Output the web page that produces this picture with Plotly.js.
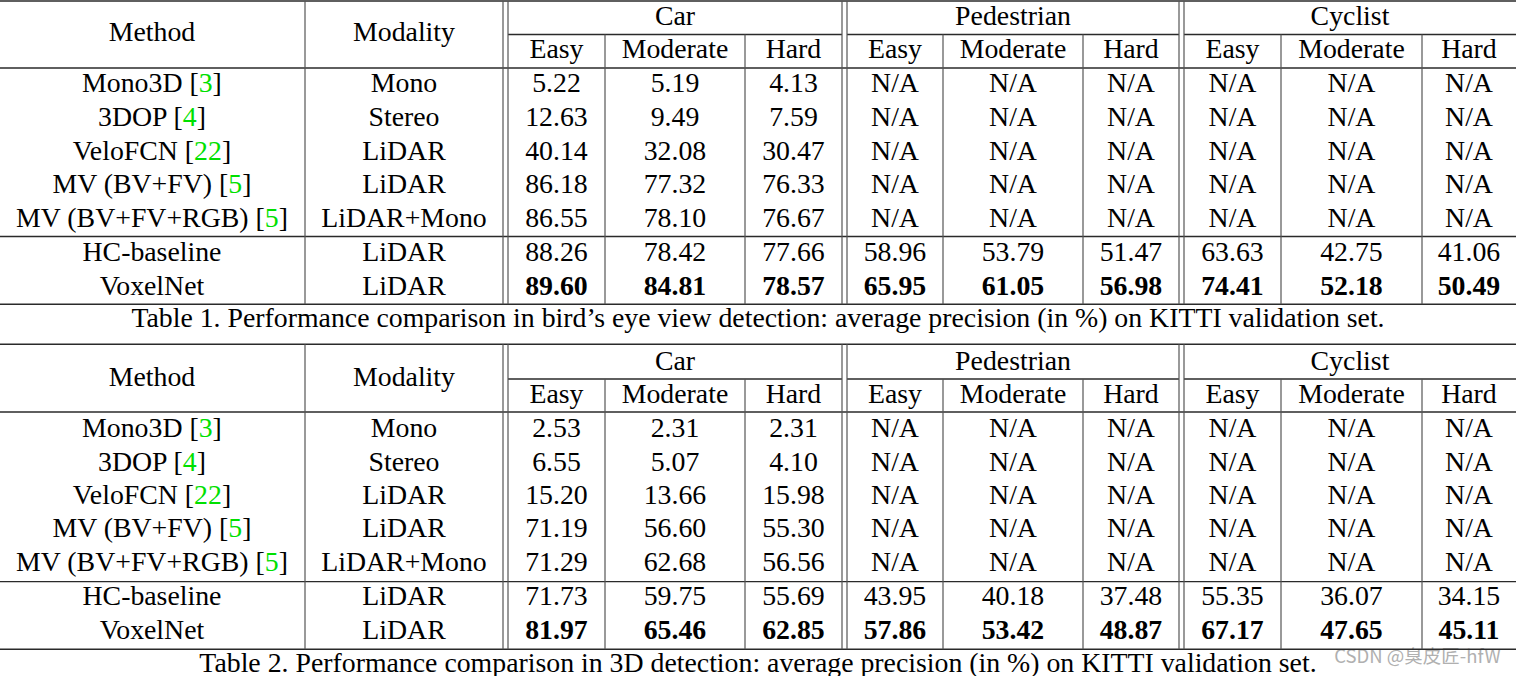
<!DOCTYPE html>
<html><head><meta charset="utf-8">
<script src="https://cdn.plot.ly/plotly-3.0.1.min.js"></script>
<style>html,body{margin:0;padding:0;background:#fff;overflow:hidden;} #chart{width:1516px;height:676px;}</style>
</head><body><div id="chart"></div>
<script>
// ---------- DATA ----------
const methods = ['Mono3D', '3DOP', 'VeloFCN', 'MV (BV+FV)', 'MV (BV+FV+RGB)', 'HC-baseline', 'VoxelNet'];
const refs = ['3', '4', '22', '5', '5', '', ''];
const modality = ['Mono', 'Stereo', 'LiDAR', 'LiDAR', 'LiDAR+Mono', 'LiDAR', 'LiDAR'];
const classes = ['Car', 'Pedestrian', 'Cyclist'];
const levels = ['Easy', 'Moderate', 'Hard'];
const headerMethod = 'Method';
const headerModality = 'Modality';

// Table 1: bird's eye view AP (%)
const bevCar = [[5.22, 5.19, 4.13], [12.63, 9.49, 7.59], [40.14, 32.08, 30.47], [86.18, 77.32, 76.33], [86.55, 78.10, 76.67], [88.26, 78.42, 77.66], [89.60, 84.81, 78.57]];
const bevPed = [null, null, null, null, null, [58.96, 53.79, 51.47], [65.95, 61.05, 56.98]];
const bevCyc = [null, null, null, null, null, [63.63, 42.75, 41.06], [74.41, 52.18, 50.49]];

// Table 2: 3D detection AP (%)
const d3Car = [[2.53, 2.31, 2.31], [6.55, 5.07, 4.10], [15.20, 13.66, 15.98], [71.19, 56.60, 55.30], [71.29, 62.68, 56.56], [71.73, 59.75, 55.69], [81.97, 65.46, 62.85]];
const d3Ped = [null, null, null, null, null, [43.95, 40.18, 37.48], [57.86, 53.42, 48.87]];
const d3Cyc = [null, null, null, null, null, [55.35, 36.07, 34.15], [67.17, 47.65, 45.11]];

const captions = [
  'Table 1. Performance comparison in bird\u2019s eye view detection: average precision (in %) on KITTI validation set.',
  'Table 2. Performance comparison in 3D detection: average precision (in %) on KITTI validation set.'
];
const boldRow = 'VoxelNet';
const watermark = 'CSDN @\u81ed\u76ae\u5320-hfW';

// ---------- LAYOUT GEOMETRY ----------
const W = 1516, H = 676;
const TDY = 2.2; // vertical text offset
const colCenters = [152, 404, 556.5, 675, 793.5, 895, 1013, 1131, 1232.5, 1351.5, 1469];
const groupSpans = [[508, 842], [847, 1179], [1184, 1516]];
const vSingle = [305];
const vDouble = [503, 508, 842, 847, 1179, 1184];
const vInner = [605, 745, 943, 1083, 1281, 1422];
const tables = [
  {data: [bevCar, bevPed, bevCyc], lines: [1, 34.5, 68, 236.5, 304.3],
   yGroup: 15.5, ySub: 49, yMethod: 32, yRows: [83.3, 117, 150.5, 184, 217.5, 252, 285.5], yCap: 318},
  {data: [d3Car, d3Ped, d3Cyc], lines: [344.3, 379, 412, 581.7, 649.3],
   yGroup: 360.5, ySub: 394, yMethod: 377, yRows: [428, 461.5, 495, 528.3, 561.7, 596, 630], yCap: 662.5}
];
const FONT = 'Liberation Serif, Times New Roman, serif';
const FS = 27.8;
const GREEN = '#00e000';

function fmt(v) { return v === null ? 'N/A' : v.toFixed(2); }

const tx = [], ty = [], tt = [];
const shapes = [];
function hline(x0, x1, y, c, w) {
  shapes.push({type: 'line', xref: 'x', yref: 'y', x0: x0, x1: x1, y0: y, y1: y, line: {color: c, width: w}});
}
function vline(x, y0, y1, c, w) {
  shapes.push({type: 'line', xref: 'x', yref: 'y', x0: x, x1: x, y0: y0, y1: y1, line: {color: c, width: w}});
}
function put(x, y, s) { tx.push(x); ty.push(y + TDY); tt.push(s); }

tables.forEach(function (t, tIdx) {
  // header
  put(colCenters[0], t.yMethod, headerMethod);
  put(colCenters[1], t.yMethod, headerModality);
  classes.forEach(function (c, ci) {
    put((groupSpans[ci][0] + groupSpans[ci][1]) / 2, t.yGroup, c);
    levels.forEach(function (l, li) {
      put(colCenters[2 + ci * 3 + li], t.ySub, l);
    });
  });
  // rows
  methods.forEach(function (m, ri) {
    const y = t.yRows[ri];
    const label = refs[ri] ? m + ' [<span style="color:' + GREEN + '">' + refs[ri] + '</span>]' : m;
    put(colCenters[0], y, label);
    put(colCenters[1], y, modality[ri]);
    t.data.forEach(function (cls, ci) {
      const vals = cls[ri];
      for (let li = 0; li < 3; li++) {
        let s = fmt(vals === null ? null : vals[li]);
        if (m === boldRow) s = '<b>' + s + '</b>';
        put(colCenters[2 + ci * 3 + li], y, s);
      }
    });
  });
  // caption
  put(W / 2, t.yCap, captions[tIdx]);

  // rules
  const L = t.lines;
  const HC = '#2a2a2a', VC = '#555555';
  hline(0, W, L[0], HC, 1.4);
  groupSpans.forEach(function (g) { hline(g[0], g[1], L[1], HC, 1.3); });
  hline(0, W, L[2], HC, 1.3);
  hline(0, W, L[3], HC, 1.3);
  hline(0, W, L[4], HC, 1.4);
  vSingle.concat(vDouble).forEach(function (x) { vline(x, L[0], L[4], VC, 1.2); });
  vInner.forEach(function (x) { vline(x, L[1], L[4], VC, 1.2); });
});

const traces = [{
  type: 'scatter', mode: 'text', x: tx, y: ty, text: tt,
  textposition: 'middle center', hoverinfo: 'skip', showlegend: false, cliponaxis: false,
  textfont: {family: FONT, size: FS, color: '#000'}
}, {
  type: 'scatter', mode: 'text', x: [1417.5], y: [658], text: [watermark],
  textposition: 'middle center', hoverinfo: 'skip', showlegend: false, cliponaxis: false,
  textfont: {family: 'Noto Sans CJK SC, Noto Sans, sans-serif', size: 18.5, color: '#b0b0b0'}
}];

const layout = {
  width: W, height: H,
  margin: {l: 0, r: 0, t: 0, b: 0, pad: 0},
  paper_bgcolor: '#fff', plot_bgcolor: '#fff',
  xaxis: {range: [0, W], visible: false, fixedrange: true},
  yaxis: {range: [H, 0], visible: false, fixedrange: true},
  shapes: shapes,
  showlegend: false
};
Plotly.newPlot('chart', traces, layout, {staticPlot: true, displayModeBar: false});
</script></body></html>
